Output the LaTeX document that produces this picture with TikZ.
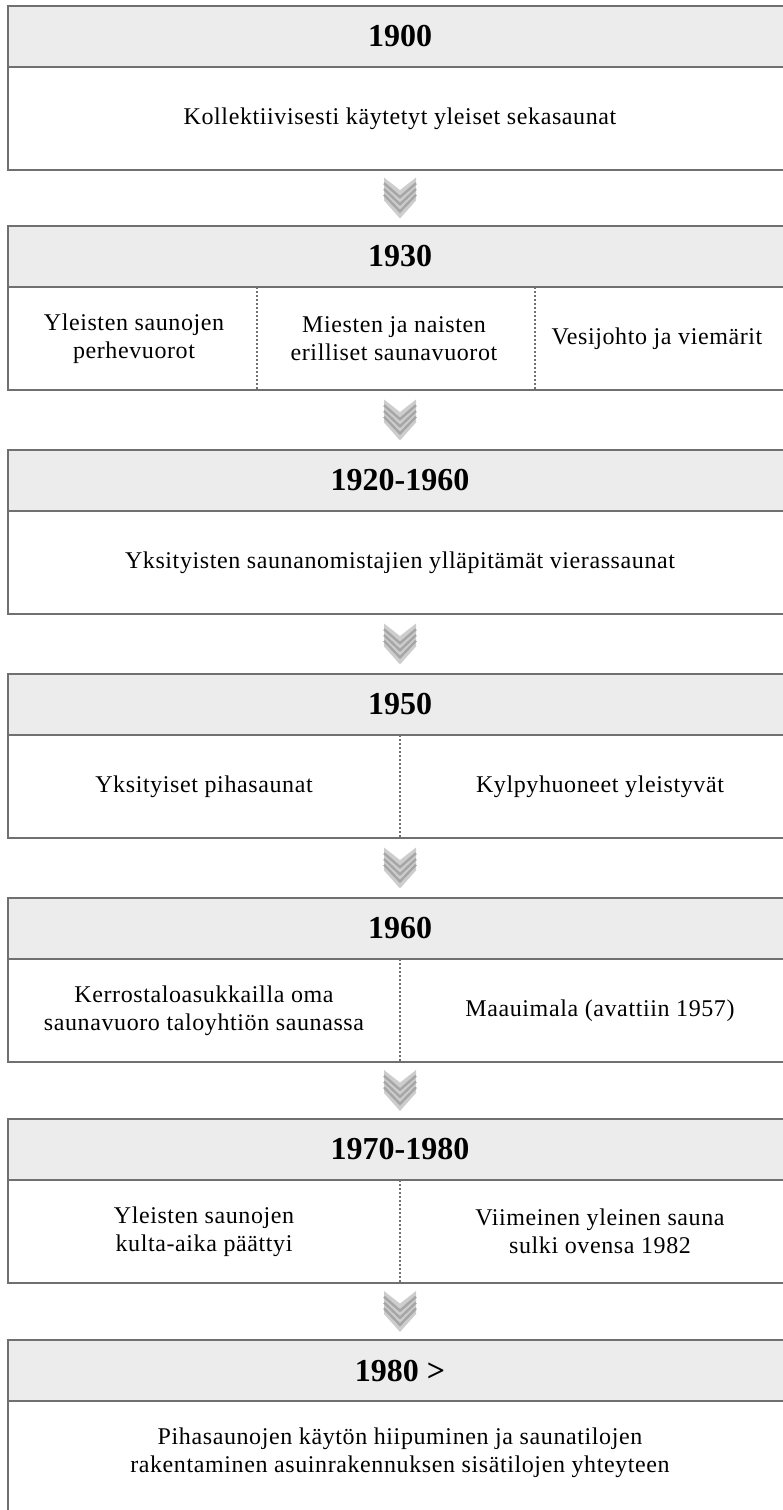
\documentclass[tikz,border=0pt]{standalone}
\usepackage{fontspec}
\setmainfont{Liberation Serif}
\newfontfamily\itemfont{Liberation Serif}[LetterSpace=2.5]
\usetikzlibrary{positioning,calc}

\definecolor{boxline}{HTML}{707070}
\definecolor{yearfill}{HTML}{ECECEC}
\definecolor{chevlight}{HTML}{CDCDCD}
\definecolor{chevdark}{HTML}{A6A6A6}

\begin{document}
\begin{tikzpicture}[x=1pt, y=1pt,
    yearbox/.style={draw=boxline, line width=2pt, fill=yearfill, minimum width=784pt,
      minimum height=61pt, inner sep=0pt, outer sep=0pt, font=\fontsize{32}{38}\selectfont\bfseries},
    itembox/.style={draw=boxline, line width=2pt, minimum width=784pt, minimum height=103pt,
      inner sep=0pt, outer sep=0pt},
    itemtext/.style={align=center, inner sep=0pt, font=\itemfont\fontsize{24}{28}\selectfont},
    divider/.style={boxline, line width=1.3pt, dash pattern=on 2pt off 2pt},
    pics/chevron/.style={code={
      \fill[chevlight] (-16,20.5) -- (0,7.9) -- (16,20.5) -- (16,-2.5) -- (0,-20.5) -- (-16,-2.5) -- cycle;
      \foreach \ly/\ny in {14.75/0.8, 9/-6.3, 3.25/-13.4}
        \draw[chevdark, line width=2.4pt] (-16,\ly) -- (0,\ny) -- (16,\ly);
    }}]
  \useasboundingbox (0,0) rectangle (782,-1510);

  % 1900
  \node[yearbox] (y1900) at (400,-36.5) {1900};
  \node[itembox, below=0pt of y1900] (b1900) {};
  \node[itemtext] (t1900) at (b1900) {Kollektiivisesti käytetyt yleiset sekasaunat};

  % 1930
  \node[yearbox] (y1930) at (400,-256.5) {1930};
  \node[itembox, below=0pt of y1930] (b1930) {};
  \node[itemtext] (t1930a) at ([xshift=-266pt]b1930.center) {Yleisten saunojen\\perhevuorot};
  \node[itemtext] (t1930b) at ([xshift=-6pt]b1930.center) {Miesten ja naisten\\erilliset saunavuorot};
  \node[itemtext] (t1930c) at ([xshift=257pt]b1930.center) {Vesijohto ja viemärit};
  \draw[divider] ([xshift=-143pt]b1930.north) -- ([xshift=-143pt]b1930.south);
  \draw[divider] ([xshift=135pt]b1930.north) -- ([xshift=135pt]b1930.south);

  % 1920-1960
  \node[yearbox] (y1920) at (400,-480.5) {1920-1960};
  \node[itembox, below=0pt of y1920] (b1920) {};
  \node[itemtext] (t1920) at (b1920) {Yksityisten saunanomistajien ylläpitämät vierassaunat};

  % 1950
  \node[yearbox] (y1950) at (400,-704.5) {1950};
  \node[itembox, below=0pt of y1950] (b1950) {};
  \node[itemtext] (t1950a) at ([xshift=-196pt]b1950.center) {Yksityiset pihasaunat};
  \node[itemtext] (t1950b) at ([xshift=200pt]b1950.center) {Kylpyhuoneet yleistyvät};
  \draw[divider] (b1950.north) -- (b1950.south);

  % 1960
  \node[yearbox] (y1960) at (400,-928.5) {1960};
  \node[itembox, below=0pt of y1960] (b1960) {};
  \node[itemtext] (t1960a) at ([xshift=-196pt]b1960.center) {Kerrostaloasukkailla oma\\saunavuoro taloyhtiön saunassa};
  \node[itemtext] (t1960b) at ([xshift=200pt]b1960.center) {Maauimala (avattiin 1957)};
  \draw[divider] (b1960.north) -- (b1960.south);

  % 1970-1980
  \node[yearbox] (y1970) at (400,-1149.5) {1970-1980};
  \node[itembox, below=0pt of y1970] (b1970) {};
  \node[itemtext] (t1970a) at ([xshift=-196pt]b1970.center) {Yleisten saunojen\\kulta-aika päättyi};
  \node[itemtext] (t1970b) at ([xshift=200pt]b1970.center) {Viimeinen yleinen sauna\\sulki ovensa 1982};
  \draw[divider] (b1970.north) -- (b1970.south);

  % 1980 >
  \node[yearbox] (y1980) at (400,-1370.5) {1980 >};
  \node[itembox, below=0pt of y1980, minimum height=115pt] (b1980) {};
  \node[itemtext] (t1980) at ([yshift=6pt]b1980.center) {Pihasaunojen käytön hiipuminen ja saunatilojen\\rakentaminen asuinrakennuksen sisätilojen yhteyteen};

  % chevrons between the boxes
  \foreach \from/\to in {b1900/y1930, b1930/y1920, b1920/y1950, b1950/y1960, b1960/y1970, b1970/y1980}
    \pic at ($(\from.south)!0.5!(\to.north)$) {chevron};
\end{tikzpicture}
\end{document}
